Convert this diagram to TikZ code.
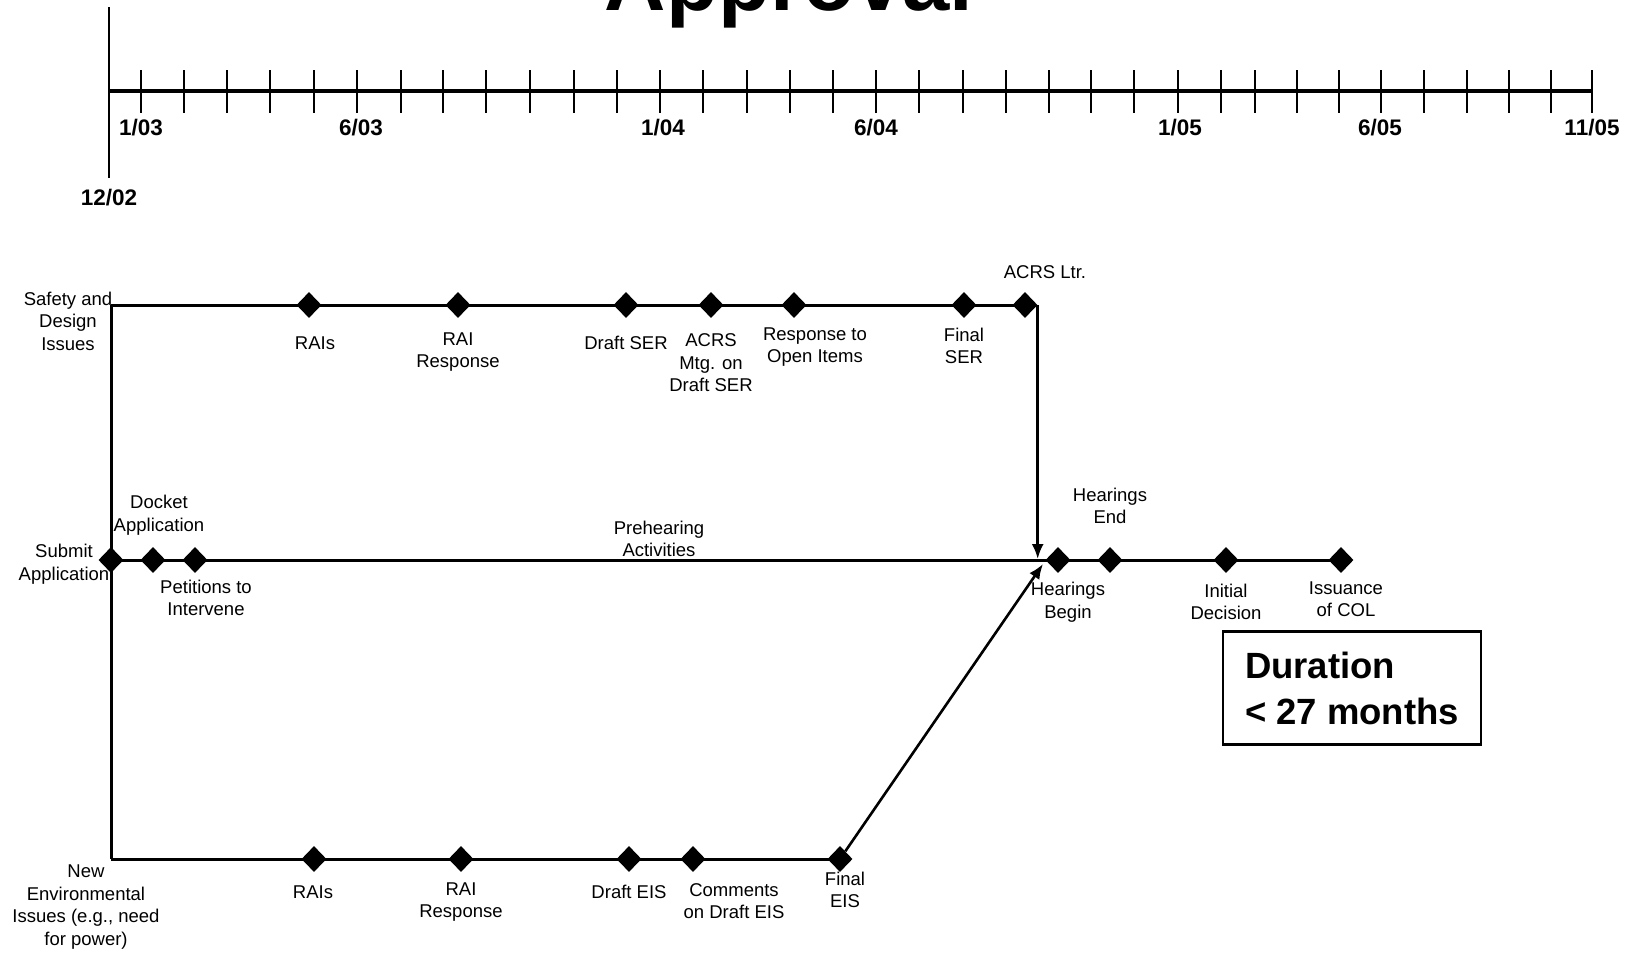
\documentclass[tikz,border=0pt]{standalone}
\usepackage{fontspec}
\setmainfont{Liberation Sans}
\usetikzlibrary{shapes.geometric,arrows.meta}
\tikzset{
  milestone/.style={diamond,fill=black,inner sep=0pt,minimum width=25pt,minimum height=26pt},
  lbl/.style={align=center,inner sep=0pt,font=\fontsize{18.5}{22.5}\selectfont},
  datelbl/.style={inner sep=0pt,font=\fontsize{22.5}{26}\selectfont\bfseries},
  track/.style={line width=3pt},
  tickline/.style={line width=2.2pt},
  joinarrow/.style={line width=2.6pt,-{Latex[length=15pt,width=12pt]}}
}
\begin{document}
\begin{tikzpicture}[x=1pt,y=-1pt]
\useasboundingbox (0,0) rectangle (1639,954);
\clip (0,0) rectangle (1639,954);

% Title, cut by the top edge
\node (title) [anchor=base,inner sep=0pt,font=\fontsize{85}{92}\selectfont\bfseries] at (789,10) {Approval};

% Drawing time axis
\draw [line width=2pt] (109,7) -- (109,178);
\draw [line width=3.4pt] (109,91) -- (1592,91);
\foreach \tx in {141,184,227,270,314,357,401,443,486,530,574,617,660,703,747,790,833,876,919,963,1006,1049,1091,1134,1178,1221,1255,1297,1339,1381,1424,1467,1509,1551,1592}
  \draw [tickline] (\tx,70) -- (\tx,113);

% Marking dates
\node [datelbl] (d1202) at (109,198) {12/02};
\node [datelbl] (d0103) at (141,128) {1/03};
\node [datelbl] (d0603) at (361,128) {6/03};
\node [datelbl] (d0104) at (663,128) {1/04};
\node [datelbl] (d0604) at (876,128) {6/04};
\node [datelbl] (d0105) at (1180,128) {1/05};
\node [datelbl] (d0605) at (1380,128) {6/05};
\node [datelbl] (d1105) at (1592,128) {11/05};

% Corners of the tracks
\coordinate (safetystart) at (111,305);
\coordinate (envstart) at (111,859);

% Marking safety milestones
\node [milestone] (raiss) at (309,305) {};
\node [milestone] (raisresps) at (458,305) {};
\node [milestone] (draftser) at (626,305) {};
\node [milestone] (acrsmtg) at (711,305) {};
\node [milestone] (openitems) at (794,305) {};
\node [milestone] (finalser) at (964,305) {};
\node [milestone] (acrsltr) at (1025,305) {};

% Marking hearing milestones
\node [milestone] (submit) at (111,560) {};
\node [milestone] (docket) at (153,560) {};
\node [milestone] (petitions) at (195,560) {};
\node [milestone] (hearbegin) at (1058,560) {};
\node [milestone] (hearend) at (1110,560) {};
\node [milestone] (decision) at (1226,560) {};
\node [milestone] (issuance) at (1341,560) {};

% Marking environmental milestones
\node [milestone] (raise) at (314,859) {};
\node [milestone] (raisrespe) at (461,859) {};
\node [milestone] (drafteis) at (629,859) {};
\node [milestone] (comments) at (693,859) {};
\node [milestone] (finaleis) at (840,859) {};

% Drawing tracks
\draw [track] (safetystart) -- (acrsltr.center);
\draw [track] (safetystart) -- (envstart);
\draw [track] (submit.center) -- (issuance.center);
\draw [track] (envstart) -- (finaleis.center);

% Drawing joins into the hearings
\coordinate (mergea) at (1037,559);
\coordinate (mergeb) at (1043,564);
\draw [joinarrow] (acrsltr.east) -- (acrsltr.east |- mergea);
\draw [joinarrow] (finaleis) -- (mergeb);

% Track names
\node [lbl] (safetylbl) at (68,321) {Safety and\\Design\\Issues};
\node [lbl] (submitlbl) at (64,564) {Submit\\Application};
\node [lbl] (envlbl) at (86,907) {New\\Environmental\\Issues (e.g., need\\for power)};

% Safety labels
\node [lbl] (raisslbl) at (315,343) {RAIs};
\node [lbl] (raisrespslbl) at (458,352) {RAI\\Response};
\node [lbl] (draftserlbl) at (626,343) {Draft SER};
\node [lbl] (acrsmtglbl) at (711,363) {ACRS\\Mtg. on\\Draft SER};
\node [lbl] (openitemslbl) at (815,347) {Response to\\Open Items};
\node [lbl] (finalserlbl) at (964,346) {Final\\SER};
\node [lbl] (acrsltrlbl) at (1045,272) {ACRS Ltr.};

% Hearing labels
\node [lbl] (docketlbl) at (159,515) {Docket\\Application};
\node [lbl] (petitionslbl) at (206,598) {Petitions to\\Intervene};
\node [lbl] (prehearlbl) at (659,539) {Prehearing\\Activities};
\node [lbl] (hearendlbl) at (1110,506) {Hearings\\End};
\node [lbl] (hearbeginlbl) at (1068,602) {Hearings\\Begin};
\node [lbl] (decisionlbl) at (1226,602) {Initial\\Decision};
\node [lbl] (issuancelbl) at (1346,599) {Issuance\\of COL};

% Environmental labels
\node [lbl] (raiselbl) at (313,892) {RAIs};
\node [lbl] (raisrespelbl) at (461,902) {RAI\\Response};
\node [lbl] (drafteislbl) at (629,892) {Draft EIS};
\node [lbl] (commentslbl) at (734,901) {Comments\\on Draft EIS};
\node [lbl] (finaleislbl) at (845,890) {Final\\EIS};

% Duration box
\node (duration) [draw,line width=2.6pt,minimum width=258pt,minimum height=113pt,align=left,font=\fontsize{36.5}{46}\selectfont\bfseries] at (1352,688) {Duration\\< 27 months};
\end{tikzpicture}
\end{document}
